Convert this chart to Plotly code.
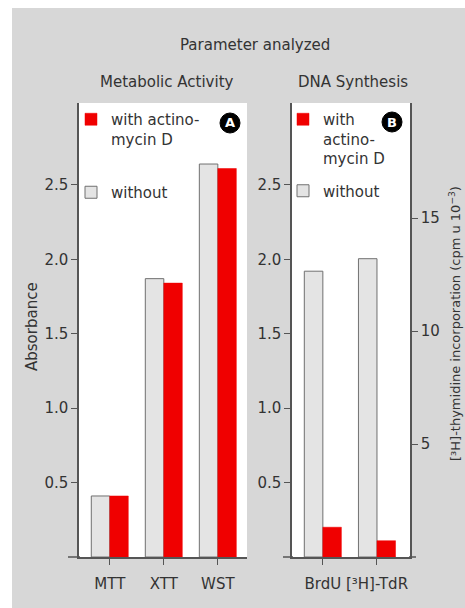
import plotly.graph_objects as go

# ---------------- data ----------------
metabolic_assays = ["MTT", "XTT", "WST"]
metabolic_without = [0.41, 1.87, 2.64]   # absorbance
metabolic_with = [0.41, 1.84, 2.61]      # absorbance

dna_assays = ["BrdU", "[³H]-TdR"]
brdu_without = [1.92]    # absorbance
brdu_with = [0.20]       # absorbance
tdr_without = [13.2]     # cpm x 10^-3
tdr_with = [0.72]        # cpm x 10^-3

abs_ticks = [0.5, 1.0, 1.5, 2.0, 2.5]
abs_ticklabels = ["0.5", "1.0", "1.5", "2.0", "2.5"]
cpm_ticks = [5, 10, 15]
cpm_ticklabels = ["5", "10", "15"]

# ---------------- style ----------------
W, H = 465, 608
FONT = "DejaVu Sans"
TXT = "#333333"
BG = "#d7d7d7"
RED = "#f00000"
GREY_FILL = "#e4e4e4"
GREY_LINE = "#707070"
AXC = "#555555"


def px(x):
    return x / W


def py(y):
    return 1 - y / H


fig = go.Figure()

# left panel: metabolic activity
fig.add_trace(go.Bar(
    x=metabolic_assays, y=metabolic_without, name="without",
    xaxis="x", yaxis="y", offsetgroup="wo", alignmentgroup="met",
    marker=dict(color=GREY_FILL, line=dict(color=GREY_LINE, width=1)),
    legend="legend", legendgroup="wo", legendrank=2))
fig.add_trace(go.Bar(
    x=metabolic_assays, y=metabolic_with, name="with actino-<br>mycin D",
    xaxis="x", yaxis="y", offsetgroup="w", alignmentgroup="met",
    marker=dict(color=RED, line=dict(color=RED, width=0.5)),
    legend="legend", legendgroup="w", legendrank=1))

# right panel: DNA synthesis
fig.add_trace(go.Bar(
    x=dna_assays[:1], y=brdu_without, name="without",
    xaxis="x2", yaxis="y2", offsetgroup="wo", alignmentgroup="dna",
    marker=dict(color=GREY_FILL, line=dict(color=GREY_LINE, width=1)),
    legend="legend2", legendgroup="wo2", legendrank=2))
fig.add_trace(go.Bar(
    x=dna_assays[:1], y=brdu_with, name="with<br>actino-<br>mycin D",
    xaxis="x2", yaxis="y2", offsetgroup="w", alignmentgroup="dna",
    marker=dict(color=RED, line=dict(color=RED, width=0.5)),
    legend="legend2", legendgroup="w2", legendrank=1))
fig.add_trace(go.Bar(
    x=dna_assays[1:], y=tdr_without, name="without",
    xaxis="x2", yaxis="y3", offsetgroup="wo", alignmentgroup="dna",
    marker=dict(color=GREY_FILL, line=dict(color=GREY_LINE, width=1)),
    showlegend=False))
fig.add_trace(go.Bar(
    x=dna_assays[1:], y=tdr_with, name="with actinomycin D",
    xaxis="x2", yaxis="y3", offsetgroup="w", alignmentgroup="dna",
    marker=dict(color=RED, line=dict(color=RED, width=0.5)),
    showlegend=False))

ydom = [py(557), py(103)]
common_x = dict(type="category", showline=True, linecolor=AXC, linewidth=1.5,
                ticks="outside", ticklen=6, tickcolor=AXC, tickwidth=1.2,
                showgrid=False, zeroline=False, fixedrange=True,
                tickfont=dict(size=15, color=TXT, family=FONT),
                ticklabelstandoff=6)
common_y = dict(showline=True, linecolor=AXC, linewidth=1.5,
                ticks="outside", ticklen=6, tickcolor=AXC, tickwidth=1.2,
                showgrid=False, zeroline=False, fixedrange=True,
                tickfont=dict(size=15, color=TXT, family=FONT),
                domain=ydom)

legend_common = dict(xanchor="left", yanchor="top",
                     bgcolor="rgba(0,0,0,0)", borderwidth=0,
                     font=dict(size=15, color=TXT, family=FONT),
                     traceorder="grouped", valign="top", itemwidth=30,
                     itemclick=False, itemdoubleclick=False)

fig.update_layout(
    width=W, height=H, autosize=False,
    margin=dict(l=0, r=0, t=0, b=0, pad=0),
    paper_bgcolor=BG, plot_bgcolor="white",
    font=dict(family=FONT, size=15, color=TXT),
    barmode="group", bargap=0.315, bargroupgap=0,
    xaxis=dict(common_x, domain=[px(79), px(247)], anchor="y",
               range=[-0.57, 2.54], categoryorder="array",
               categoryarray=metabolic_assays),
    yaxis=dict(common_y, anchor="x", range=[0, 3.05],
               tickvals=abs_ticks, ticktext=abs_ticklabels),
    xaxis2=dict(common_x, domain=[px(292), px(410)], anchor="y2",
                range=[-0.57, 1.61], categoryorder="array",
                categoryarray=dna_assays),
    yaxis2=dict(common_y, anchor="x2", range=[0, 3.05],
                tickvals=abs_ticks, ticktext=abs_ticklabels),
    yaxis3=dict(common_y, anchor="x2", overlaying="y2", side="right",
                range=[0, 20.09], tickvals=cpm_ticks, ticktext=cpm_ticklabels),
    legend=dict(legend_common, x=px(71), y=py(103), tracegroupgap=31),
    legend2=dict(legend_common, x=px(283), y=py(103), tracegroupgap=10),
    showlegend=True,
)

# white border strips at top and left of the grey panel
fig.add_shape(type="rect", xref="paper", yref="paper", x0=0, x1=1,
              y0=py(8), y1=1, fillcolor="white", line=dict(width=0), layer="below")
fig.add_shape(type="rect", xref="paper", yref="paper", x0=0, x1=px(12),
              y0=0, y1=1, fillcolor="white", line=dict(width=0), layer="below")

# short extensions of the baseline beyond the value axes
for xa, xb in [(68, 80), (283, 293), (409, 416)]:
    fig.add_shape(type="line", xref="paper", yref="paper",
                  x0=px(xa), x1=px(xb), y0=py(557), y1=py(557),
                  line=dict(color=AXC, width=1.5))

# panel badges
for cx, cy, letter in [(230, 123, "A"), (392, 122, "B")]:
    fig.add_shape(type="circle", xref="paper", yref="paper",
                  x0=px(cx - 10), x1=px(cx + 10), y0=py(cy + 10), y1=py(cy - 10),
                  fillcolor="black", line=dict(color="black", width=1))
    fig.add_annotation(x=px(cx), y=py(cy), xref="paper", yref="paper",
                       text=f"<b>{letter}</b>", showarrow=False,
                       font=dict(size=13, color="white", family=FONT),
                       xanchor="center", yanchor="middle")

annots = [
    ("Parameter analyzed", 255, 45, 0, 15),
    ("Metabolic Activity", 167, 82, 0, 15),
    ("DNA Synthesis", 353, 82, 0, 15),
    ("Absorbance", 32, 327, -90, 15),
    ("[³H]-thymidine incorporation (cpm u 10<sup>−3</sup>)", 455, 324, -90, 13),
]
for text, x, y, ang, size in annots:
    fig.add_annotation(x=px(x), y=py(y), xref="paper", yref="paper",
                       text=text, showarrow=False, textangle=ang,
                       font=dict(size=size, color=TXT, family=FONT),
                       xanchor="center", yanchor="middle")

fig.write_html("out.html", config={"displayModeBar": False},
               post_script="document.body.style.margin='0';"
                           "document.body.style.overflow='hidden';")
